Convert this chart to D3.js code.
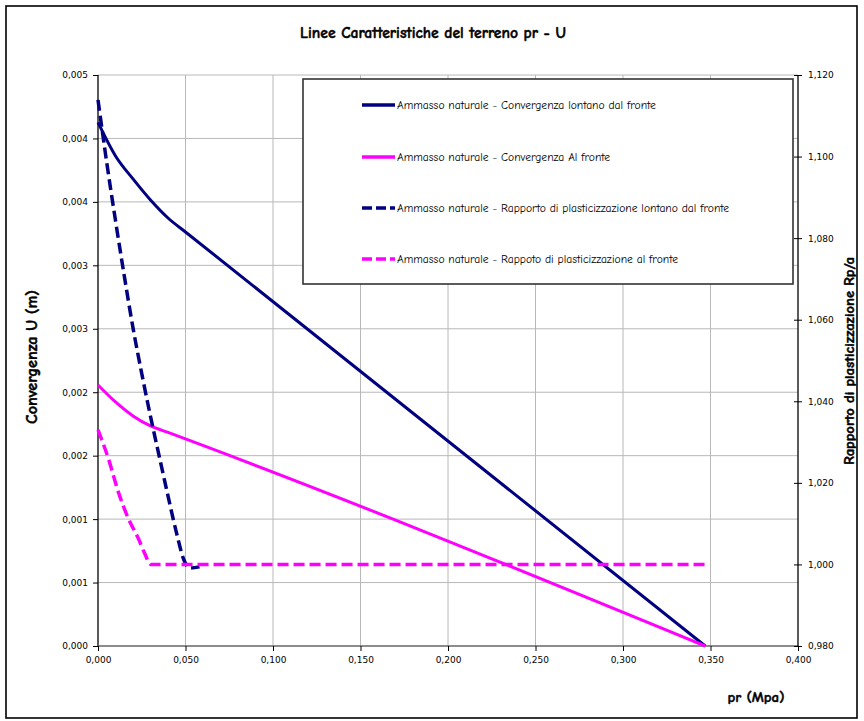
<!DOCTYPE html>
<html>
<head>
<meta charset="utf-8">
<script src="https://cdn.jsdelivr.net/npm/d3@7"></script>
<style>
  html, body { margin: 0; padding: 0; background: #fff; }
  svg { display: block; }
</style>
</head>
<body>
<svg id="chart" width="864" height="721"></svg>
<script>
// ---------------- DATA ----------------
const xTicks = [0, 0.05, 0.10, 0.15, 0.20, 0.25, 0.30, 0.35, 0.40];
const xTickLabels = ["0,000","0,050","0,100","0,150","0,200","0,250","0,300","0,350","0,400"];
const leftTicks = [0, 0.0005, 0.001, 0.0015, 0.002, 0.0025, 0.003, 0.0035, 0.004, 0.0045];
const leftTickLabels = ["0,000","0,001","0,001","0,002","0,002","0,003","0,003","0,004","0,004","0,005"];
const rightTicks = [0.98, 1.00, 1.02, 1.04, 1.06, 1.08, 1.10, 1.12];
const rightTickLabels = ["0,980","1,000","1,020","1,040","1,060","1,080","1,100","1,120"];

// Convergenza lontano dal fronte (left axis)
const prLontano = [0, 0.01, 0.02, 0.03, 0.04, 0.05, 0.347];
const uLontano  = [0.004126, 0.003862, 0.003681, 0.003515, 0.003373, 0.003263, 0];

// Convergenza al fronte (left axis)
const prFronte = [0, 0.01, 0.02, 0.03, 0.04, 0.347];
const uFronte  = [0.002057, 0.001923, 0.001813, 0.001734, 0.001683, 0];

// Rapporto di plasticizzazione lontano dal fronte (right axis)
const prRpLontano = [0, 0.005, 0.01, 0.015, 0.02, 0.025, 0.03, 0.035, 0.04, 0.045, 0.049, 0.0525, 0.058];
const rpLontano   = [1.1139, 1.0985, 1.0843, 1.0708, 1.0580, 1.0468, 1.0363, 1.0265, 1.0168, 1.0075, 1.0012, 0.9991, 0.9994];

// Rapporto di plasticizzazione al fronte (right axis)
const prRpFronte = [0, 0.0059, 0.0116, 0.0173, 0.023, 0.0269, 0.030, 0.347];
const rpFronte   = [1.033, 1.026, 1.0178, 1.0113, 1.0064, 1.0025, 1.000, 1.000];

const seriesNames = [
  "Ammasso naturale - Convergenza lontano dal fronte",
  "Ammasso naturale - Convergenza Al fronte",
  "Ammasso naturale - Rapporto di plasticizzazione lontano dal fronte",
  "Ammasso naturale - Rappoto di plasticizzazione al fronte"
];

// ---------------- CHART ----------------
const svg = d3.select("#chart");
const W = 864, H = 721;
const L = 98, R = 798, T = 75, B = 646;
const labelFont = "'DejaVu Sans', Verdana, sans-serif";
const comic = "'Comic Sans MS', 'Comic Neue', 'Noto Sans', sans-serif";

const x = d3.scaleLinear().domain([0, 0.4]).range([L, R]);
const yL = d3.scaleLinear().domain([0, 0.0045]).range([B, T]);
const yR = d3.scaleLinear().domain([0.98, 1.12]).range([B, T]);

// fit a text's font-size so it spans a given width
function fit(sel, target) {
  const node = sel.node();
  const fs = parseFloat(sel.attr("font-size"));
  const w = node.getComputedTextLength();
  if (w > 0) sel.attr("font-size", (fs * target / w).toFixed(2));
  return sel;
}

// outer frame
svg.append("rect").attr("x", 6).attr("y", 6).attr("width", W - 13).attr("height", H - 9)
  .attr("fill", "#fff").attr("stroke", "#000").attr("stroke-width", 1.6);

// gridlines
const grid = svg.append("g").attr("stroke", "#b8b8b8").attr("stroke-width", 1);
leftTicks.forEach(v => {
  if (v === 0) return;
  grid.append("line").attr("x1", L).attr("x2", R).attr("y1", yL(v)).attr("y2", yL(v));
});
xTicks.forEach(v => {
  if (v === 0 || v === 0.4) return;
  grid.append("line").attr("x1", x(v)).attr("x2", x(v)).attr("y1", T).attr("y2", B);
});

// axes
const axL = d3.axisLeft(yL).tickValues(leftTicks).tickSize(5).tickPadding(5)
  .tickFormat((d, i) => leftTickLabels[i]);
const gL = svg.append("g").attr("transform", `translate(${L},0)`).call(axL);

const axB = d3.axisBottom(x).tickValues(xTicks).tickSize(5).tickPadding(6)
  .tickFormat((d, i) => xTickLabels[i]);
const gB = svg.append("g").attr("transform", `translate(0,${B})`).call(axB);

const axR = d3.axisRight(yR).tickValues(rightTicks).tickSize(4).tickPadding(6)
  .tickFormat((d, i) => rightTickLabels[i]);
const gR = svg.append("g").attr("transform", `translate(${R},0)`).call(axR);

[gL, gB, gR].forEach(g => {
  g.selectAll("text").attr("font-family", labelFont).attr("font-size", 9).attr("fill", "#000");
  g.selectAll("line").attr("stroke", "#000");
  g.select(".domain").attr("stroke", "#000").attr("stroke-width", 1.3);
});
gL.select(".domain").attr("d", `M0,${T}V${B}`);
gR.select(".domain").attr("d", `M0,${T}V${B}`);
gB.select(".domain").attr("d", `M${L},0H${R}`).attr("stroke", "#666").attr("stroke-width", 1.6);
gR.selectAll(".tick line").attr("x1", -4);

// series
const lineL = d3.line().x(d => x(d[0])).y(d => yL(d[1])).curve(d3.curveMonotoneX);
const lineR = d3.line().x(d => x(d[0])).y(d => yR(d[1])).curve(d3.curveMonotoneX);
const zip = (a, b) => a.map((v, i) => [v, b[i]]);

const navy = "#000080", magenta = "#FF00FF";
const dash = "11,5";

svg.append("path").datum(zip(prLontano, uLontano)).attr("d", lineL)
  .attr("fill", "none").attr("stroke", navy).attr("stroke-width", 3);
svg.append("path").datum(zip(prFronte, uFronte)).attr("d", lineL)
  .attr("fill", "none").attr("stroke", magenta).attr("stroke-width", 3);
svg.append("path").datum(zip(prRpLontano, rpLontano)).attr("d", lineR)
  .attr("fill", "none").attr("stroke", navy).attr("stroke-width", 3.5).attr("stroke-dasharray", dash);
svg.append("path").datum(zip(prRpFronte, rpFronte)).attr("d", lineR)
  .attr("fill", "none").attr("stroke", magenta).attr("stroke-width", 3.5).attr("stroke-dasharray", dash);

// legend
const lg = svg.append("g");
lg.append("rect").attr("x", 303).attr("y", 79).attr("width", 490).attr("height", 205)
  .attr("fill", "#fff").attr("stroke", "#333").attr("stroke-width", 1.6);
const legStyles = [
  {c: navy, d: null}, {c: magenta, d: null}, {c: navy, d: "10,4"}, {c: magenta, d: "10,4"}
];
const legY = [105, 157, 208, 259];
let legFs = 10;
seriesNames.forEach((name, i) => {
  const yy = legY[i];
  lg.append("line").attr("x1", 362).attr("x2", 395).attr("y1", yy).attr("y2", yy)
    .attr("stroke", legStyles[i].c).attr("stroke-width", 3.5)
    .attr("stroke-dasharray", legStyles[i].d);
  const t = lg.append("text").attr("x", 397).attr("y", yy).attr("dy", "0.35em")
    .attr("font-family", comic).attr("font-size", legFs).attr("fill", "#000").text(name);
  if (i === 0) { fit(t, 259); legFs = t.attr("font-size"); }
});

// titles
const boldish = sel => sel.attr("font-weight", "bold").attr("stroke", "#000").attr("stroke-width", 0.45);
const title = svg.append("text").attr("x", 433).attr("y", 33).attr("dy", "0.35em").attr("text-anchor", "middle")
  .attr("font-family", comic).attr("font-size", 12)
  .text("Linee Caratteristiche del terreno pr - U");
boldish(title); fit(title, 266);
const ytl = svg.append("text").attr("transform", "translate(31,357) rotate(-90)").attr("dy", "0.35em")
  .attr("text-anchor", "middle").attr("font-family", comic).attr("font-size", 11)
  .text("Convergenza U (m)");
boldish(ytl); fit(ytl, 134);
const ytr = svg.append("text").attr("transform", "translate(849,361) rotate(-90)").attr("dy", "0.35em")
  .attr("text-anchor", "middle").attr("font-family", comic).attr("font-size", 11)
  .text("Rapporto di plasticizzazione Rp/a");
boldish(ytr); fit(ytr, 208);
const xt = svg.append("text").attr("x", 756).attr("y", 697).attr("dy", "0.35em").attr("text-anchor", "middle")
  .attr("font-family", comic).attr("font-size", 11)
  .text("pr (Mpa)");
boldish(xt); fit(xt, 57);
</script>
</body>
</html>
